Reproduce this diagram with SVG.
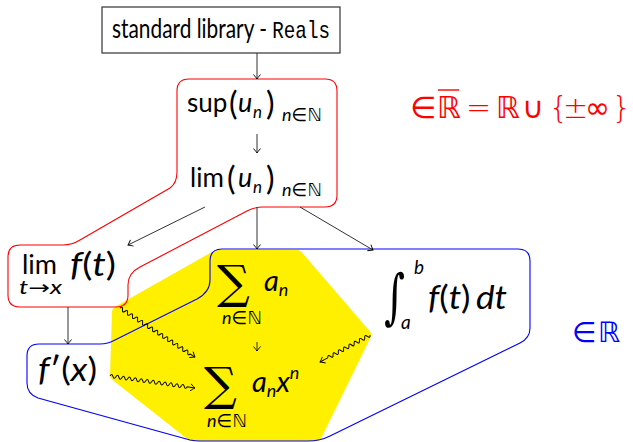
<svg xmlns="http://www.w3.org/2000/svg" width="633" height="442" viewBox="0 0 633 442">
<style>
.t{font-family:Lato,"DejaVu Sans",sans-serif;fill:#000}
.i{font-style:italic}
.bb{font-family:"DejaVu Sans",sans-serif}
.lt{font-family:"DejaVu Sans Light","DejaVu Sans ExtraLight","DejaVu Sans",sans-serif}
.m{font-family:"Liberation Mono","DejaVu Sans Mono",monospace}
.sig{font-family:"DejaVu Serif",serif}
.ar{fill:none;stroke:#333;stroke-width:1;marker-end:url(#to)}
.sn{fill:none;stroke:#000;stroke-width:1;marker-end:url(#to)}
</style>
<defs>
<marker id="to" markerUnits="userSpaceOnUse" markerWidth="10" markerHeight="10" viewBox="-6 -5 8 10" refX="0" refY="0" orient="auto" overflow="visible">
<path d="M-4.5,-3.5 Q-1,-0.6 0,0 Q-1,0.6 -4.5,3.5" fill="none" stroke="#000" stroke-width="0.9"/>
</marker>
</defs>
<g id="yellow-region">
<polygon points="118,312 217,256 297,256 365,335 316,435 192,435 116,375" fill="#FFF000" stroke="#FFF000" stroke-width="12" stroke-linejoin="round"/>
</g>
<g id="red-region">
<path d="M189,79 H325 Q337,79 337,91 V195 Q337,207 325,207 H263 Q255,207 247,211 L140,267 Q128,273 128,285 V295 Q128,307 116,307 H20 Q8,307 8,295 V257 Q8,245 20,245 H63 Q72,245 80,240 L170,188 Q177,183 177,172 V91 Q177,79 189,79 Z" fill="none" stroke="#FF0000" stroke-width="1.1"/>
<text x="410" y="118" font-size="30" fill="#FF0000" class="lt">∈<tspan x="437">ℝ</tspan><tspan x="466">=</tspan><tspan x="496">ℝ</tspan><tspan x="522">∪</tspan><tspan x="549">{</tspan><tspan x="563">±</tspan><tspan x="585">∞</tspan><tspan x="612">}</tspan></text>
<line x1="438" y1="90" x2="459" y2="90" stroke="#FF0000" stroke-width="1.4"/>
</g>
<g id="blue-region">
<path d="M222,249 H518 Q530,249 530,261 V328 Q530,338 520,343 L330,436 Q320,441 308,441 H200 Q195,441 190,440 L38,398 Q27,394 27,383 V356 Q27,344 39,344 H100 Q108,344 115,340 L197,299 Q210,292 210,280 V261 Q210,249 222,249 Z" fill="none" stroke="#0000FF" stroke-width="1.1"/>
<text x="572" y="342" font-size="28" fill="#0000FF" class="lt">∈<tspan x="598">ℝ</tspan></text>
</g>
<g id="connectors">
<path class="ar" d="M257,53 V79"/>
<path class="ar" d="M257,134 V153"/>
<path class="ar" d="M205,207 L128,245"/>
<path class="ar" d="M257,207 V249"/>
<path class="ar" d="M300,207 L373,250"/>
<path class="ar" d="M68,307 V344"/>
<path class="ar" d="M257,342 V351"/>
<path class="sn" transform="translate(120,308) rotate(33.2)" d="M0,0 q1.5,-3.5 3,0 t3,0 t3,0 t3,0 t3,0 t3,0 t3,0 t3,0 t3,0 t3,0 t3,0 t3,0 t3,0 t3,0 t3,0 t3,0 t3,0 t3,0 t3,0 t3,0 t3,0 t3,0 t3,0 t3,0 t3,0 t3,0 t3,0 t3,0 l5.6,0"/>
<path class="sn" transform="translate(110,376) rotate(8)" d="M0,0 q1.5,-3.5 3,0 t3,0 t3,0 t3,0 t3,0 t3,0 t3,0 t3,0 t3,0 t3,0 t3,0 t3,0 t3,0 t3,0 t3,0 t3,0 t3,0 t3,0 t3,0 t3,0 t3,0 t3,0 t3,0 t3,0 t3,0 t3,0 l7.8,0"/>
<path class="sn" transform="translate(370,335) rotate(151.6)" d="M0,0 q1.5,-3.5 3,0 t3,0 t3,0 t3,0 t3,0 t3,0 t3,0 t3,0 t3,0 t3,0 t3,0 t3,0 t3,0 t3,0 t3,0 t3,0 l8.8,0"/>
</g>
<g id="node-reals">
<rect x="102" y="7" width="238" height="46" fill="#fff" stroke="#333" stroke-width="1.2"/>
<text x="112" y="38" font-size="26" class="t" textLength="218" lengthAdjust="spacingAndGlyphs">standard library - <tspan class="m" font-size="24">Reals</tspan></text>
</g>
<g id="node-sup">
<text y="112" font-size="26" class="t"><tspan x="187">sup</tspan><tspan x="229" y="115" font-size="32">(</tspan><tspan x="238" y="112" font-size="27" class="i">u</tspan><tspan x="253" y="118" font-size="17" class="i">n</tspan><tspan x="266" y="115" font-size="32">)</tspan><tspan x="282" y="121" font-size="18" class="i">n</tspan><tspan font-size="18" y="121" class="bb">∈ℕ</tspan></text>
</g>
<g id="node-lim-seq">
<text y="187" font-size="26" class="t"><tspan x="190">lim</tspan><tspan x="227" y="190" font-size="32">(</tspan><tspan x="238" y="187" font-size="27" class="i">u</tspan><tspan x="253" y="193" font-size="17" class="i">n</tspan><tspan x="266" y="190" font-size="32">)</tspan><tspan x="282" y="196" font-size="18" class="i">n</tspan><tspan font-size="18" y="196" class="bb">∈ℕ</tspan></text>
</g>
<g id="node-lim-fun">
<text y="274" font-size="27" class="t"><tspan x="22">lim</tspan></text>
<text x="70" y="276" font-size="32" class="t" textLength="46" lengthAdjust="spacingAndGlyphs"><tspan class="i">f</tspan><tspan>(</tspan><tspan class="i">t</tspan><tspan>)</tspan></text>
<text x="19" y="294" font-size="19" class="t" textLength="43" lengthAdjust="spacingAndGlyphs"><tspan class="i">t</tspan><tspan class="bb">→</tspan><tspan class="i">x</tspan></text>
</g>
<g id="node-deriv">
<text x="38" y="381" font-size="33" class="t" textLength="59" lengthAdjust="spacingAndGlyphs"><tspan class="i">f</tspan><tspan>′(</tspan><tspan class="i">x</tspan><tspan>)</tspan></text>
</g>
<g id="node-series">
<text x="217" y="298" font-size="46" class="sig">∑</text>
<text x="264" y="291" font-size="29" class="t i">a<tspan font-size="18" dy="5">n</tspan></text>
<text x="222" y="324" font-size="18" class="t"><tspan class="i">n</tspan><tspan class="bb">∈ℕ</tspan></text>
</g>
<g id="node-power-series">
<text x="204" y="400" font-size="46" class="sig">∑</text>
<text x="252" y="392" font-size="29" class="t i">a<tspan font-size="18" dy="5">n</tspan><tspan dy="-5">x</tspan><tspan font-size="18" dy="-13">n</tspan></text>
<text x="207" y="427" font-size="18" class="t"><tspan class="i">n</tspan><tspan class="bb">∈ℕ</tspan></text>
</g>
<g id="node-integral">
<text x="384" y="318" font-size="40" class="sig" transform="translate(0,-160) scale(1,1.5)">∫</text>
<text x="414" y="274" font-size="19" class="t i">b</text>
<text x="401" y="329" font-size="19" class="t i">a</text>
<text x="428" y="309" font-size="32" class="t" textLength="79" lengthAdjust="spacingAndGlyphs"><tspan class="i">f</tspan>(<tspan class="i">t</tspan>)<tspan class="i" dx="5">dt</tspan></text>
</g>
</svg>
